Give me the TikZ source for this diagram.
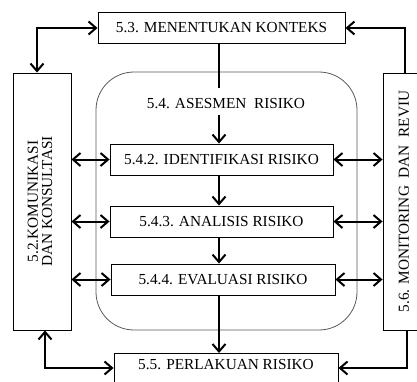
\documentclass[tikz,border=0pt]{standalone}
\usepackage{fontspec}
\setmainfont{Liberation Serif}
\usepackage{graphicx}
\usetikzlibrary{arrows.meta}
\begin{document}
\begin{tikzpicture}[x=1pt,y=-1pt,
  txt/.style={font=\fontsize{15.3}{14}\selectfont},
  box/.style={draw, line width=0.9pt, inner sep=0pt, txt},
  tip/.tip={Straight Barb[length=7.5pt,width=13pt]},
  conn/.style={line width=2pt, -tip},
  biconn/.style={line width=2pt, tip-tip},
  plainline/.style={line width=2pt}]
\useasboundingbox (0,0) rectangle (417,381);
\clip (0,0) rectangle (417,381);
% assessment frame
\node[draw=black!65, line width=0.8pt, rounded corners=38pt, minimum width=261pt, minimum height=258pt] (asm) at (226.5,201) {};
\node[txt, inner sep=0pt] (asmlabel) at (226,104) {5.4. ASESMEN\ \ RISIKO};
% boxes
\node[box, minimum width=247pt, minimum height=31pt] (ctx) at (221.5,27.5) {5.3. MENENTUKAN KONTEKS};
\node[box, minimum width=58pt, minimum height=257pt] (kom) at (42,201.5)
  {\rotatebox{90}{\begin{tabular}{@{}c@{}}5.2.KOMUNIKASI\\DAN KONSULTASI\end{tabular}}};
\node[box, minimum width=42pt, minimum height=257pt] (mon) at (404,201.5)
  {\rotatebox{90}{5.6. MONITORING\ \ DAN\ \ REVIU}};
\node[box, minimum width=223pt, minimum height=31pt] (idn) at (221.5,159.5) {5.4.2. IDENTIFIKASI RISIKO};
\node[box, minimum width=223pt, minimum height=31pt] (ana) at (221.5,221.5) {5.4.3. ANALISIS RISIKO};
\node[box, minimum width=224pt, minimum height=31pt] (eva) at (223,279.5) {5.4.4. EVALUASI RISIKO};
\node[box, minimum width=224pt, minimum height=37pt, anchor=north, text depth=16pt] (prl) at (226,353) {5.5. PERLAKUAN RISIKO};
% main vertical flow
\coordinate (a1) at (219,88);
\coordinate (a2) at (219,115);
\draw[plainline] (ctx.south -| a1) -- (a1);
\draw[conn] (a2) -- (a2 |- idn.north);
\draw[conn] (idn.south -| a2) -- (ana.north -| a2);
\draw[conn] (ana.south -| a2) -- (eva.north -| a2);
\draw[conn] (eva.south -| a2) -- (prl.north -| a2);
% side links
\draw[biconn] (kom.east |- idn) -- (idn.west);
\draw[biconn] (kom.east |- ana) -- (ana.west);
\draw[biconn] (kom.east |- eva) -- (eva.west);
\draw[biconn] (idn.east) -- (mon.west |- idn);
\draw[biconn] (ana.east) -- (mon.west |- ana);
\draw[biconn] (eva.east) -- (mon.west |- eva);
% corner links
\coordinate (tl) at (37,28);
\draw[biconn] (ctx.west |- tl) -- (tl) -- (tl |- kom.north);
\coordinate (tr) at (405,28);
\draw[conn] (tr |- mon.north) -- (tr) -- (ctx.east |- tr);
\coordinate (bl) at (45,368);
\draw[biconn] (bl |- kom.south) -- (bl) -- (prl.west |- bl);
\coordinate (br) at (407,368);
\draw[conn] (br |- mon.south) -- (br) -- (prl.east |- br);
\end{tikzpicture}
\end{document}
